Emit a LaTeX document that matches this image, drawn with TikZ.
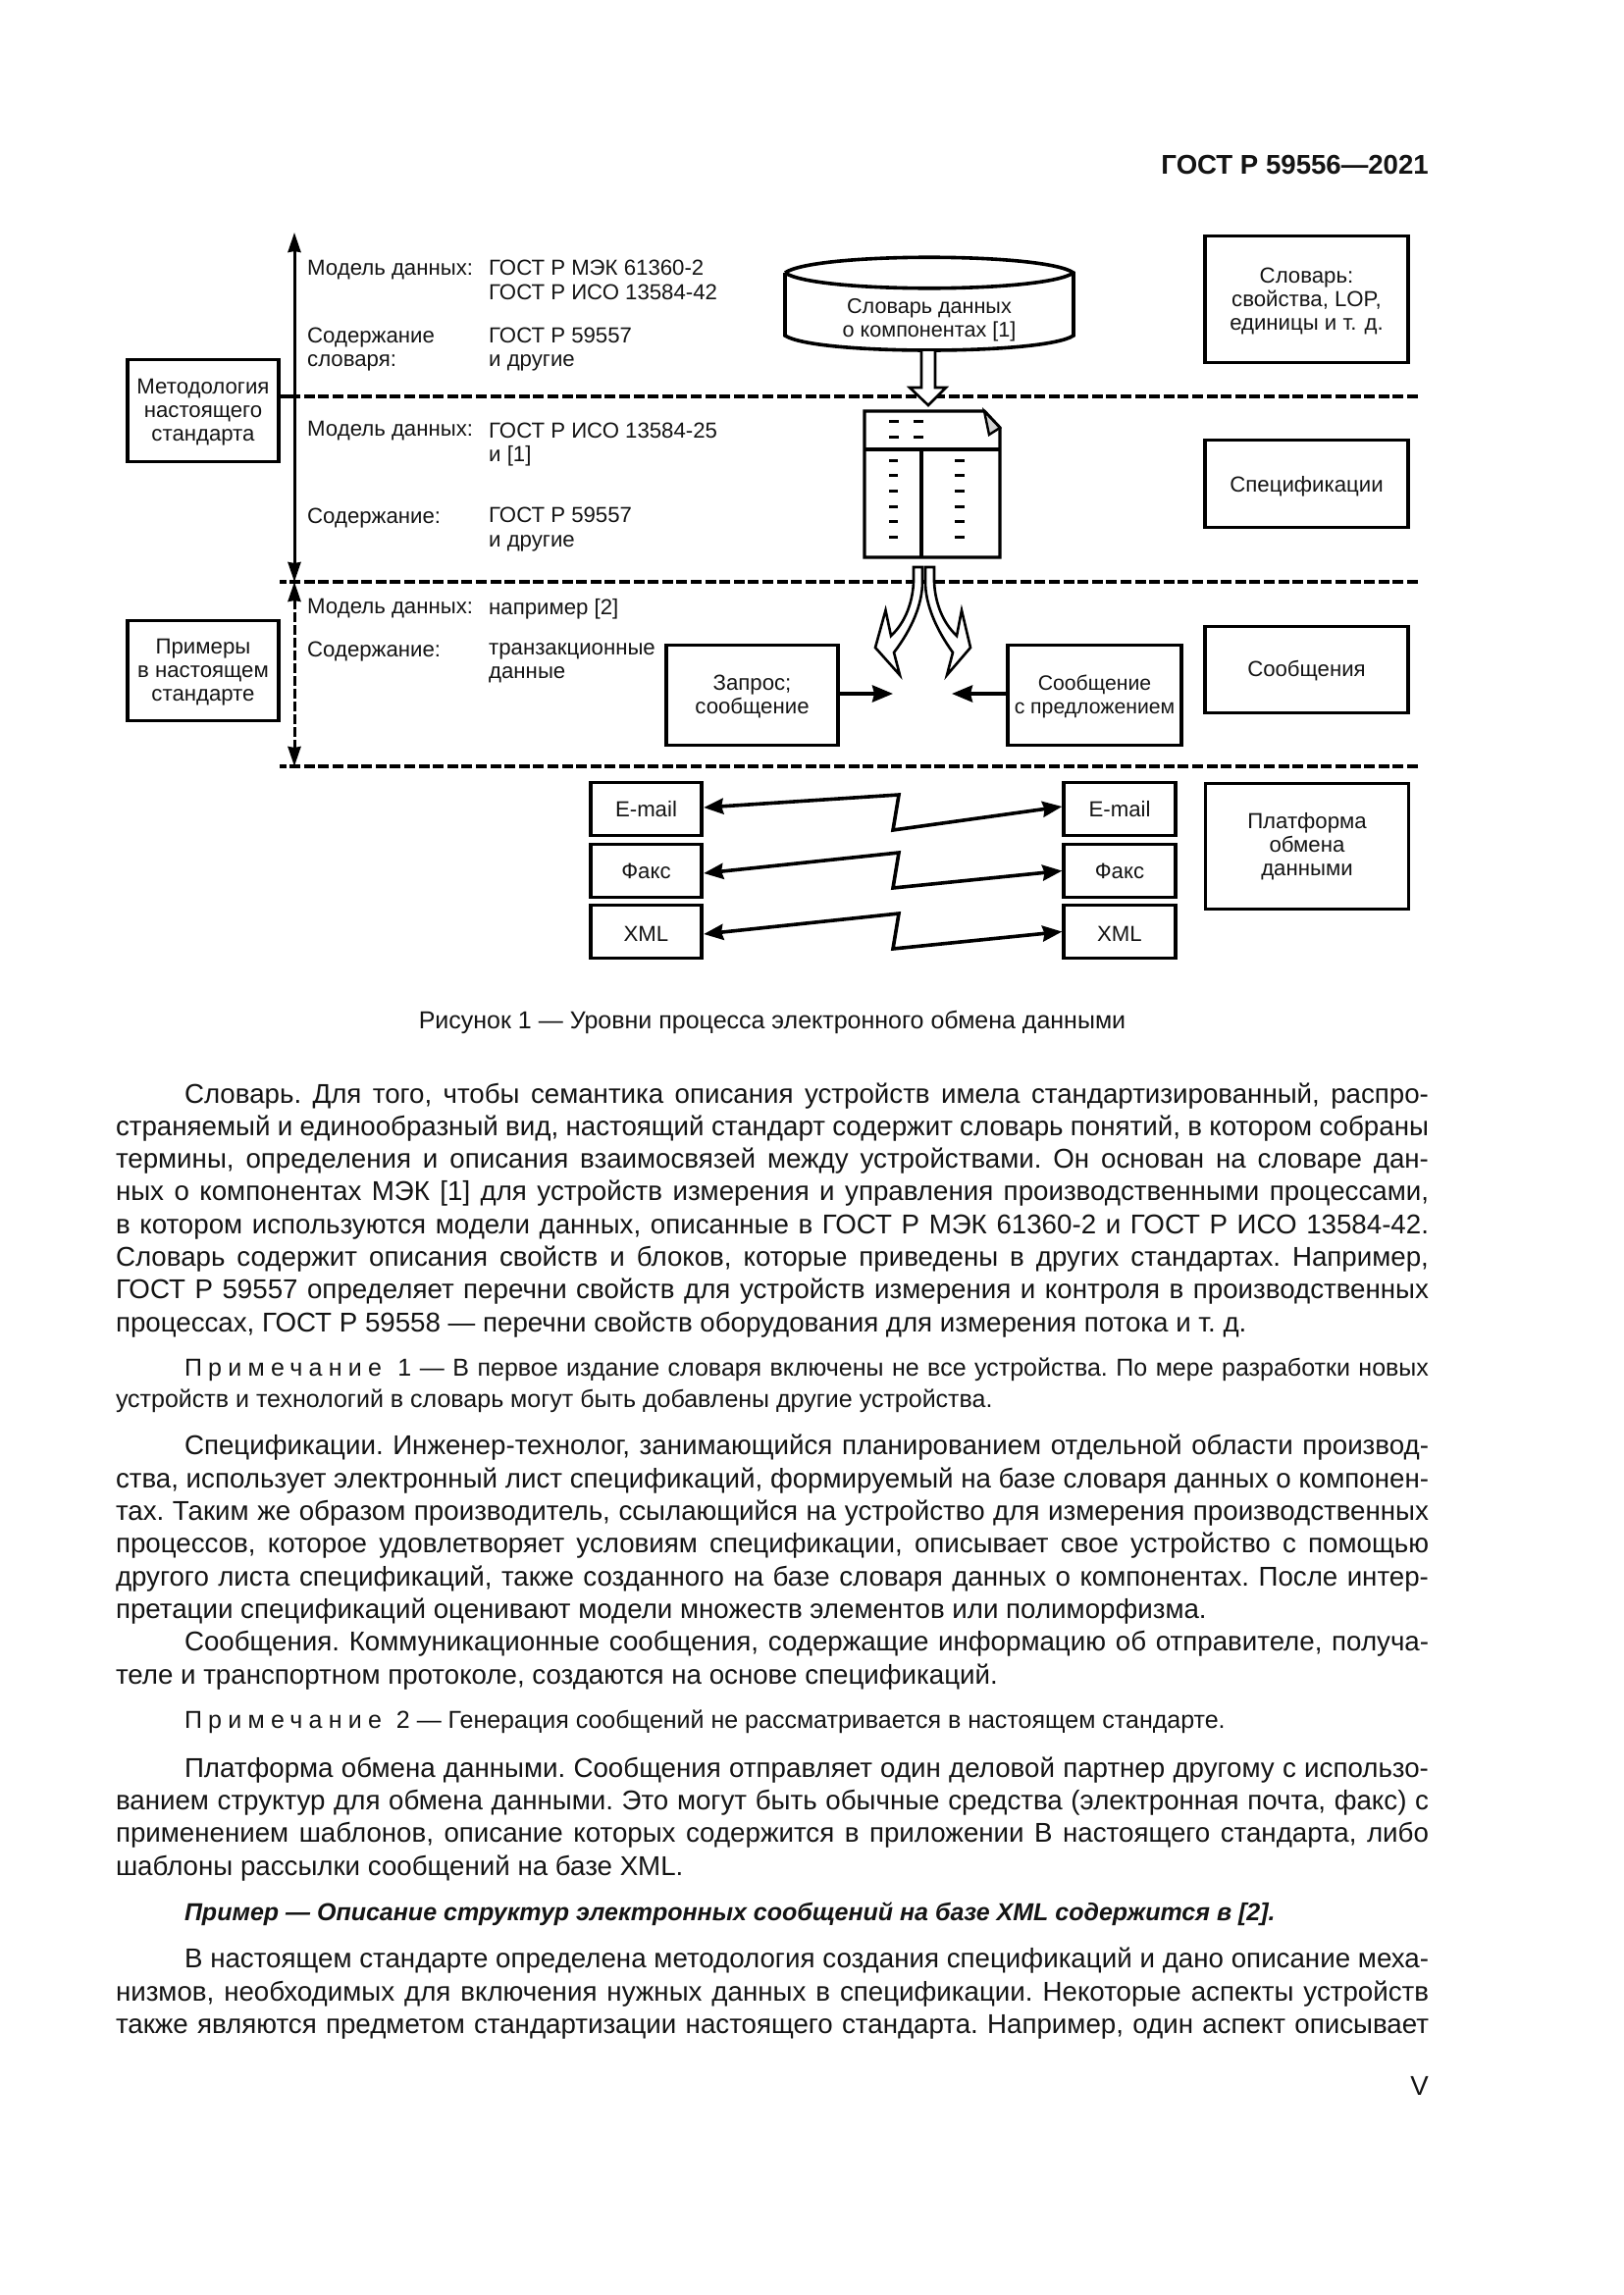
\documentclass[tikz,border=0pt]{standalone}
\usepackage{fontspec}
\setmainfont{Liberation Sans}
\usetikzlibrary{arrows.meta,calc}
\newcommand{\bodyfont}{\fontsize{27.7}{33}\selectfont\frenchspacing\spaceskip=.278em plus 1em minus .22em\relax}
\newcommand{\notefont}{\fontsize{25}{30}\selectfont\frenchspacing\spaceskip=.278em plus 1em minus .22em\relax}
\newcommand{\spc}[1]{{\addfontfeature{LetterSpace=25}#1}}
\newcommand{\dn}[1]{\rule{0pt}{#1pt}}
% justified line: name, y, text
\newcommand{\jl}[3]{\node[lineleft,font=\bodyfont] (#1) at (118,#2) {\makebox[1338pt][s]{#3}};}
\newcommand{\jlin}[3]{\node[lineleft,font=\bodyfont] (#1) at (188,#2) {\makebox[1268pt][s]{#3}};}
\newcommand{\pl}[3]{\node[lineleft,font=\bodyfont] (#1) at (118,#2) {#3};}
\newcommand{\njl}[3]{\node[lineleft,font=\notefont] (#1) at (188,#2) {\makebox[1268pt][s]{#3}};}
\tikzset{
  lineleft/.style={anchor=base west,inner sep=0pt,outer sep=0pt,text=black!92},
  lab/.style={anchor=west,inner sep=0pt,align=left,font=\fontsize{22.2}{24.3}\selectfont,text=black!92},
  boxed/.style={draw,line width=3.8pt,inner sep=0pt,align=center,font=\fontsize{22.2}{24}\selectfont,text=black!92},
  small/.style={boxed,minimum width=113.5pt,minimum height=54pt},
  dline/.style={line width=3.4pt,dash pattern=on 11pt off 3.6pt},
  vtip/.style={line width=3pt,{Stealth[length=20pt,width=13pt,inset=1pt]}-{Stealth[length=20pt,width=13pt,inset=1pt]}},
  link/.style={line width=3.6pt,{Stealth[length=20pt,width=16pt,inset=2pt]}-{Stealth[length=20pt,width=16pt,inset=2pt]}},
  oneway/.style={line width=3.6pt,-{Stealth[length=21pt,width=17pt,inset=2pt]}},
  hollow/.style={draw,fill=white,line width=2.6pt,line join=miter},
  tick/.style={line width=3pt},
}
\begin{document}
\begin{tikzpicture}[x=1pt,y=-1pt]
\useasboundingbox (0,0) rectangle (1654,2339);
\fill[white] (0,0) rectangle (1654,2339);
\node[anchor=base east,inner sep=0pt,font=\fontsize{27.6}{30}\selectfont\bfseries,text=black!92] (hdr) at (1456,177) {ГОСТ Р 59556—2021};

% boxes
\node[boxed,minimum width=153.5pt,minimum height=104pt] (meth) at (207,418.5) {\dn{19}Методология\\настоящего\\стандарта};
\node[boxed,minimum width=153.5pt,minimum height=102pt] (prim) at (207,683.5) {\dn{19}Примеры\\в настоящем\\стандарте};
\node[boxed,minimum width=207pt,minimum height=129pt] (slov) at (1331.5,305) {\dn{19}Словарь:\\свойства, LOP,\\единицы и т. д.};
\node[boxed,minimum width=207pt,minimum height=89pt] (spec) at (1331.5,493) {\dn{22}Спецификации};
\node[boxed,minimum width=207pt,minimum height=88pt] (soob) at (1331.5,682.5) {\dn{19}Сообщения};
\node[boxed,minimum width=207pt,minimum height=128pt] (plat) at (1332,862.5) {Платформа\\обмена\\данными};
\node[boxed,minimum width=175.5pt,minimum height=102pt] (zapr) at (766.5,708.5) {\dn{19}Запрос;\\сообщение};
\node[boxed,minimum width=177.5pt,minimum height=102pt,font=\fontsize{21.2}{24}\selectfont] (pred) at (1115.5,708.5) {\dn{19}Сообщение\\с предложением};
\node[small] (lemail) at (658.5,824.5) {E-mail};
\node[small] (lfax) at (658.5,887.5) {Факс};
\node[small] (lxml) at (658.5,949.5) {\dn{19}XML};
\node[small] (remail) at (1141,824.5) {E-mail};
\node[small] (rfax) at (1141,887.5) {Факс};
\node[small] (rxml) at (1141,949.5) {\dn{19}XML};

% labels
\node[lab] (a1) at (313,275) {Модель данных:};
\node[lab] (a2) at (498,285.5) {ГОСТ Р МЭК 61360-2\\ГОСТ Р ИСО 13584-42};
\node[lab] (a3) at (313,356) {Содержание\\словаря:};
\node[lab] (a4) at (498,356) {ГОСТ Р 59557\\и другие};
\node[lab] (b1) at (313,439.5) {Модель данных:};
\node[lab] (b2) at (498,453) {ГОСТ Р ИСО 13584-25\\и [1]};
\node[lab] (b3) at (313,528) {Содержание:};
\node[lab] (b4) at (498,539.5) {ГОСТ Р 59557\\и другие};
\node[lab] (c1) at (313,620.5) {Модель данных:};
\node[lab] (c2) at (498,620.5) {например [2]};
\node[lab] (c3) at (313,664.5) {Содержание:};
\node[lab] (c4) at (498,676) {транзакционные\\данные};

% dashed levels
\coordinate (d1r) at (1445,404);
\coordinate (d2l) at (285,593);
\coordinate (d2r) at (1445,593);
\coordinate (d3l) at (285,781);
\coordinate (d3r) at (1445,781);
\draw[dline] (d1r) -- (meth.east |- d1r);
\draw[dline] (d2r) -- (d2l);
\draw[dline] (d3r) -- (d3l);
\coordinate (vtop) at (300,237);
\coordinate (vmid) at (300,593);
\coordinate (vbot) at (300,781);
\draw[line width=3.4pt] (meth.east |- d1r) -- (vtop |- d1r);
\draw[vtip] (vtop) -- (vmid);
\draw[vtip,dash pattern=on 10pt off 3pt] (vmid) -- (vbot);

% dictionary cylinder
\coordinate (cw) at (800,278);
\coordinate (ce) at (1094,278);
\draw[line width=3.6pt,fill=white] (cw) -- (800,342) .. controls (830,362) and (1064,362) .. (1094,342) -- (ce)
  .. controls (1064,257) and (830,257) .. (cw);
\draw[line width=3.6pt] (cw) .. controls (830,299) and (1064,299) .. (ce);
\node[inner sep=0pt,align=center,font=\fontsize{21.6}{24}\selectfont,text=black!92] (dict) at (947,326.5) {Словарь данных\\о компонентах [1]};
\coordinate (cbot) at (946,358);

% document
\coordinate (tl) at (881,419);
\coordinate (br) at (1019,568);
\draw[line width=3.4pt,fill=white,line join=miter] (tl) -- (1003,419) -- (br |- 0,436) -- (br) -- (tl |- br) -- cycle;
\draw[line width=2.4pt,fill=black!18] (1003,419) -- (1008,443) -- (1019,436) -- cycle;
\draw[line width=3.4pt] (tl |- 0,458) -- (br |- 0,458);
\draw[line width=3.4pt] (939,458) -- (939,568);
\foreach \yy in {429,445}{
  \draw[tick] (906,\yy) -- (916,\yy);
  \draw[tick] (931,\yy) -- (941,\yy);
}
\foreach \yy in {469,484.5,500,516,531,547}{
  \draw[tick] (906,\yy) -- (915,\yy);
  \draw[tick] (973,\yy) -- (983,\yy);
}
\coordinate (docn) at (946,413);

% hollow arrow dictionary -> sheet
\draw[hollow] (cbot) ++(-7,0) -- ++(0,37) -- ++(-12,0) -- (docn) -- ++(18,-18) -- ++(-11,0) -- ++(0,-37);

% forked hollow arrows
\draw[hollow] (931,578) -- (931,593) .. controls (930,615) and (922,635) .. (908,648) -- (902.5,622) -- (892,660) -- (917,688) -- (911,665) .. controls (930,640) and (940,615) .. (940,593) -- (940,578) -- cycle;
\draw[hollow] (943,578) -- (943,593) .. controls (943,615) and (953,640) .. (971,665) -- (965,688) -- (989,660) -- (980,622) -- (975,648) .. controls (961,635) and (953,615) .. (952,593) -- (952,578) -- cycle;

% one-way arrows
\coordinate (zt) at (910,707);
\coordinate (pt) at (970,707);
\draw[oneway] (zapr.east |- zt) -- (zt);
\draw[oneway] (pred.west |- pt) -- (pt);

% zigzag links
\coordinate (z1a) at (916,810);\coordinate (z1b) at (910,846);
\coordinate (z2a) at (916,869);\coordinate (z2b) at (910,905);
\coordinate (z3a) at (916,931);\coordinate (z3b) at (910,967);
\draw[link,line join=miter] ([yshift=1.5pt]lemail.east) -- (z1a) -- (z1b) -- ([yshift=2.5pt]remail.west);
\draw[link,line join=miter] ([yshift=-2.5pt]lfax.east) -- (z2a) -- (z2b) -- (rfax.west);
\draw[link,line join=miter] ([yshift=-2.5pt]lxml.east) -- (z3a) -- (z3b) -- (rxml.west);

% caption
\node[anchor=base,inner sep=0pt,font=\fontsize{25}{28}\selectfont,text=black!92] (cap) at (787,1048) {Рисунок 1 — Уровни процесса электронного обмена данными};

% body
\jlin{l1}{1124}{Словарь. Для того, чтобы семантика описания устройств имела стандартизированный, распро-}
\jl{l2}{1157}{страняемый и единообразный вид, настоящий стандарт содержит словарь понятий, в котором собраны}
\jl{l3}{1190}{термины, определения и описания взаимосвязей между устройствами. Он основан на словаре дан-}
\jl{l4}{1223}{ных о компонентах МЭК [1] для устройств измерения и управления производственными процессами,}
\jl{l5}{1257}{в котором используются модели данных, описанные в ГОСТ Р МЭК 61360-2 и ГОСТ Р ИСО 13584-42.}
\jl{l6}{1290}{Словарь содержит описания свойств и блоков, которые приведены в других стандартах. Например,}
\jl{l7}{1323}{ГОСТ Р 59557 определяет перечни свойств для устройств измерения и контроля в производственных}
\pl{l8}{1357}{процессах, ГОСТ Р 59558 — перечни свойств оборудования для измерения потока и т. д.}
\njl{n1}{1402}{\spc{Примечание}\hspace{8pt} 1 — В первое издание словаря включены не все устройства. По мере разработки новых}
\node[lineleft,font=\notefont] (n2) at (118,1434) {устройств и технологий в словарь могут быть добавлены другие устройства.};
\jlin{s1}{1482}{Спецификации. Инженер-технолог, занимающийся планированием отдельной области производ-}
\jl{s2}{1516}{ства, использует электронный лист спецификаций, формируемый на базе словаря данных о компонен-}
\jl{s3}{1549}{тах. Таким же образом производитель, ссылающийся на устройство для измерения производственных}
\jl{s4}{1582}{процессов, которое удовлетворяет условиям спецификации, описывает свое устройство с помощью}
\jl{s5}{1616}{другого листа спецификаций, также созданного на базе словаря данных о компонентах. После интер-}
\pl{s6}{1649}{претации спецификаций оценивают модели множеств элементов или полиморфизма.}
\jlin{m1}{1682}{Сообщения. Коммуникационные сообщения, содержащие информацию об отправителе, получа-}
\pl{m2}{1716}{теле и транспортном протоколе, создаются на основе спецификаций.}
\node[lineleft,font=\notefont] (n3) at (188,1761) {\spc{Примечание}\hspace{8pt} 2 — Генерация сообщений не рассматривается в настоящем стандарте.};
\jlin{p1}{1811}{Платформа обмена данными. Сообщения отправляет один деловой партнер другому с использо-}
\jl{p2}{1844}{ванием структур для обмена данными. Это могут быть обычные средства (электронная почта, факс) с}
\jl{p3}{1877}{применением шаблонов, описание которых содержится в приложении В настоящего стандарта, либо}
\pl{p4}{1911}{шаблоны рассылки сообщений на базе XML.}
\node[lineleft,font=\fontsize{25}{30}\selectfont\bfseries\itshape] (ex) at (188,1957) {Пример — Описание структур электронных сообщений на базе XML содержится в [2].};
\jlin{q1}{2005}{В настоящем стандарте определена методология создания спецификаций и дано описание меха-}
\jl{q2}{2039}{низмов, необходимых для включения нужных данных в спецификации. Некоторые аспекты устройств}
\jl{q3}{2072}{также являются предметом стандартизации настоящего стандарта. Например, один аспект описывает}
\node[anchor=base east,inner sep=0pt,font=\bodyfont,text=black!92] (pg) at (1456,2135) {V};
\end{tikzpicture}
\end{document}
